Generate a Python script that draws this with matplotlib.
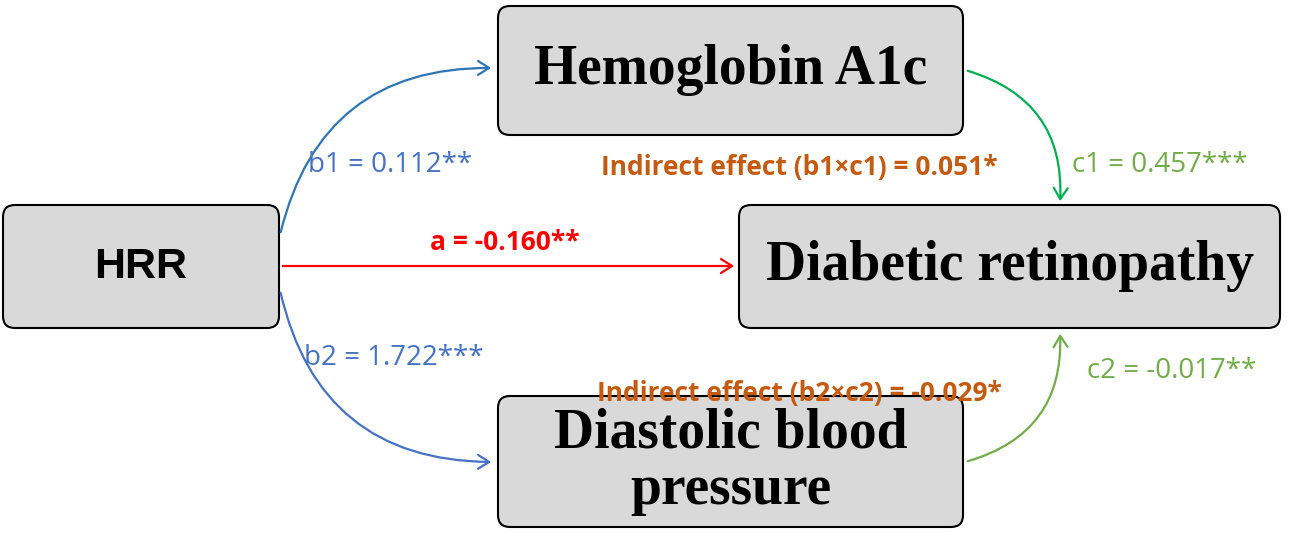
import matplotlib.pyplot as plt
from matplotlib.patches import FancyBboxPatch, FancyArrowPatch

# nodes: name, box (x0, y0, x1, y1) in pixels, font
node_names = ["HRR", "Hemoglobin A1c", "Diabetic retinopathy", "Diastolic blood\npressure"]
node_boxes = [(3, 205, 279, 328), (498, 6, 963, 135), (739, 205, 1280, 328), (498, 396, 963, 527)]
node_fonts = ["Liberation Sans", "Liberation Serif", "Liberation Serif", "Liberation Serif"]
node_sizes = [31, 40, 40, 40]

# path coefficients
coef_labels = ["b1 = 0.112**", "b2 = 1.722***", "c1 = 0.457***", "c2 = -0.017**"]
coef_pos = [(308, 165), (304, 358), (1072, 165), (1087, 371)]
coef_colors = ["#4472C4", "#4472C4", "#70AD47", "#70AD47"]

effect_labels = ["a = -0.160**", "Indirect effect (b1\u00d7c1) = 0.051*", "Indirect effect (b2\u00d7c2) = -0.029*"]
effect_pos = [(505, 243), (799, 168), (799, 393)]
effect_colors = ["#FF0000", "#C55A11", "#C55A11"]

arrows = [((280, 235), (494, 68), -0.4, "#2E75B6"),
          ((280, 290), (494, 462), 0.4, "#4472C4"),
          ((280, 266), (737, 266), 0.0, "#FF0000"),
          ((965, 70), (1060, 204), -0.4, "#00B050"),
          ((965, 462), (1060, 331), 0.4, "#70AD47")]

fig = plt.figure(figsize=(12.93, 5.35), dpi=100)
ax = fig.add_axes([0, 0, 1, 1])
ax.set_xlim(0, 1293)
ax.set_ylim(535, 0)
ax.axis("off")

for name, (x0, y0, x1, y1), fnt, sz in zip(node_names, node_boxes, node_fonts, node_sizes):
    ax.add_patch(FancyBboxPatch((x0 + 12, y0 + 12), x1 - x0 - 24, y1 - y0 - 24,
                                boxstyle="round,pad=12", fc="#D9D9D9", ec="black", lw=1.5))
    ax.text((x0 + x1) / 2, (y0 + y1) / 2, name, ha="center", va="center",
            fontsize=sz, fontweight="bold", family=fnt, linespacing=1.1)

for (p0, p1, rad, col) in arrows:
    ax.add_patch(FancyArrowPatch(p0, p1, connectionstyle=f"arc3,rad={rad}",
                                 arrowstyle="->,head_length=8,head_width=5",
                                 color=col, lw=1.6, mutation_scale=1))

for lab, (x, y), col in zip(coef_labels, coef_pos, coef_colors):
    ax.text(x, y, lab, ha="left", va="center", fontsize=20, color=col, family="Open Sans")

for lab, (x, y), col in zip(effect_labels, effect_pos, effect_colors):
    ax.text(x, y, lab, ha="center", va="center", fontsize=19, color=col,
            fontweight="bold", family="Open Sans")

fig.savefig("out.png", dpi=100)
